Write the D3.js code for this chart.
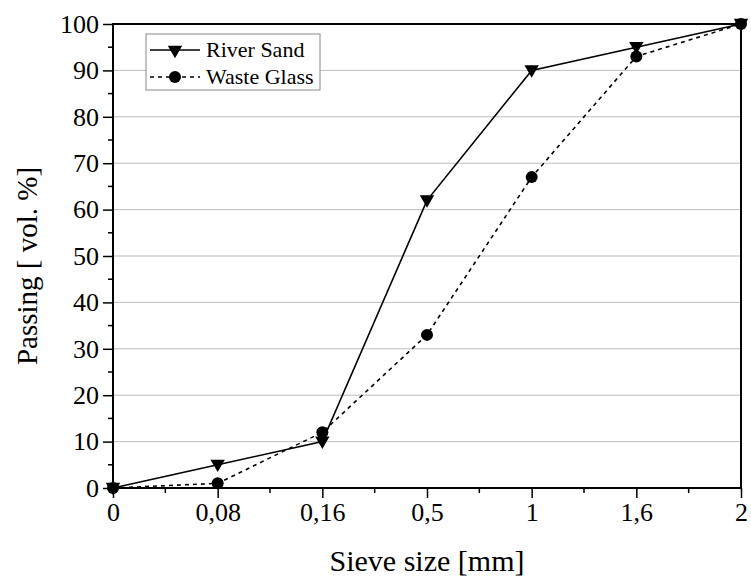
<!DOCTYPE html>
<html>
<head>
<meta charset="utf-8">
<script src="https://cdn.jsdelivr.net/npm/d3@7"></script>
<style>
  body { margin: 0; background: #fff; }
</style>
</head>
<body>
<div id="chart"></div>
<script>
const sieveSizes = ['0', '0,08', '0,16', '0,5', '1', '1,6', '2'];
const riverSand = [0, 5, 10, 62, 90, 95, 100];
const wasteGlass = [0, 1, 12, 33, 67, 93, 100];
const yTicks = [0, 10, 20, 30, 40, 50, 60, 70, 80, 90, 100];

const font = '"Liberation Serif", "Times New Roman", Times, serif';
const width = 751;
const height = 578;
const margin = { top: 24, right: 10, bottom: 90, left: 113 };

const svg = d3.select('#chart').append('svg')
  .attr('width', width)
  .attr('height', height)
  .attr('viewBox', [0, 0, width, height])
  .style('font-family', font);

const x = d3.scalePoint()
  .domain(sieveSizes)
  .range([margin.left, width - margin.right]);

const y = d3.scaleLinear()
  .domain([0, 100])
  .range([height - margin.bottom, margin.top]);

/* GRID */

svg.append('g')
  .selectAll('line')
  .data(yTicks.filter((d) => d > 0 && d < 100))
  .join('line')
  .attr('x1', margin.left)
  .attr('x2', width - margin.right)
  .attr('y1', (d) => y(d))
  .attr('y2', (d) => y(d))
  .attr('stroke', '#bdbdbd')
  .attr('stroke-width', 1);

/* AXES */

const minorY = d3.range(5, 100, 10);
const minorX = sieveSizes.slice(1).map((s, i) => (x(s) + x(sieveSizes[i])) / 2);

const yAxis = (g) => g
  .attr('transform', `translate(${margin.left}, 0)`)
  .call(d3.axisLeft(y).tickValues(yTicks).tickSize(10).tickPadding(4))
  .attr('font-family', font)
  .attr('font-size', 26)
  .call(() => g.select('.domain').remove())
  .call(() => g.selectAll('.tick line').attr('stroke-width', 1.5))
  .call(() => g.selectAll('.minor')
    .data(minorY)
    .join('line')
    .attr('class', 'minor')
    .attr('x1', -5)
    .attr('x2', 0)
    .attr('y1', (d) => y(d))
    .attr('y2', (d) => y(d))
    .attr('stroke', '#000')
    .attr('stroke-width', 1.5));

const xAxis = (g) => g
  .attr('transform', `translate(0, ${height - margin.bottom})`)
  .call(d3.axisBottom(x).tickSize(10).tickPadding(5))
  .attr('font-family', font)
  .attr('font-size', 26)
  .call(() => g.select('.domain').remove())
  .call(() => g.selectAll('.tick line').attr('stroke-width', 1.5))
  .call(() => g.selectAll('.minor')
    .data(minorX)
    .join('line')
    .attr('class', 'minor')
    .attr('x1', (d) => d)
    .attr('x2', (d) => d)
    .attr('y1', 0)
    .attr('y2', 5)
    .attr('stroke', '#000')
    .attr('stroke-width', 1.5));

svg.append('g').call(yAxis);
svg.append('g').call(xAxis);

// frame
svg.append('rect')
  .attr('x', margin.left)
  .attr('y', margin.top)
  .attr('width', width - margin.right - margin.left)
  .attr('height', height - margin.bottom - margin.top)
  .attr('fill', 'none')
  .attr('stroke', '#000')
  .attr('stroke-width', 2);

svg.append('text')
  .attr('x', (margin.left + width - margin.right) / 2)
  .attr('y', 571)
  .attr('text-anchor', 'middle')
  .attr('font-family', font)
  .attr('font-size', 30)
  .text('Sieve size [mm]');

svg.append('text')
  .attr('transform', `translate(37, ${(margin.top + height - margin.bottom) / 2 + 10}) rotate(-90)`)
  .attr('text-anchor', 'middle')
  .attr('font-family', font)
  .attr('font-size', 29)
  .text('Passing [ vol. %]');

/* SERIES */

const line = d3.line()
  .x((d, i) => x(sieveSizes[i]))
  .y((d) => y(d));

const triangle = d3.symbol().type(d3.symbolTriangle).size(90);

svg.append('path')
  .datum(wasteGlass)
  .attr('d', line)
  .attr('fill', 'none')
  .attr('stroke', '#000')
  .attr('stroke-width', 1.6)
  .attr('stroke-dasharray', '4,4');

svg.append('path')
  .datum(riverSand)
  .attr('d', line)
  .attr('fill', 'none')
  .attr('stroke', '#000')
  .attr('stroke-width', 1.6);

svg.append('g')
  .selectAll('circle')
  .data(wasteGlass)
  .join('circle')
  .attr('cx', (d, i) => x(sieveSizes[i]))
  .attr('cy', (d) => y(d))
  .attr('r', 6)
  .attr('fill', '#000');

svg.append('g')
  .selectAll('path')
  .data(riverSand)
  .join('path')
  .attr('d', triangle)
  .attr('transform', (d, i) => `translate(${x(sieveSizes[i])}, ${y(d) - 1}) rotate(180)`)
  .attr('fill', '#000');

/* LEGEND */

const legend = svg.append('g')
  .attr('transform', 'translate(146, 34)');

legend.append('rect')
  .attr('width', 174)
  .attr('height', 56)
  .attr('fill', '#fff')
  .attr('stroke', '#888')
  .attr('stroke-width', 1);

const legendItems = [
  { label: 'River Sand', dash: null, mark: 'tri' },
  { label: 'Waste Glass', dash: '4,4', mark: 'circle' },
];

legendItems.forEach((item, i) => {
  const cy = 16 + i * 27;
  legend.append('line')
    .attr('x1', 4)
    .attr('x2', 54)
    .attr('y1', cy)
    .attr('y2', cy)
    .attr('stroke', '#000')
    .attr('stroke-width', 1.6)
    .attr('stroke-dasharray', item.dash);
  if (item.mark === 'tri') {
    legend.append('path')
      .attr('d', triangle)
      .attr('transform', `translate(29, ${cy}) rotate(180)`)
      .attr('fill', '#000');
  } else {
    legend.append('circle')
      .attr('cx', 29)
      .attr('cy', cy)
      .attr('r', 6)
      .attr('fill', '#000');
  }
  legend.append('text')
    .attr('x', 60)
    .attr('y', cy + 7)
    .attr('font-family', font)
    .attr('font-size', 22)
    .text(item.label);
});
</script>
</body>
</html>
